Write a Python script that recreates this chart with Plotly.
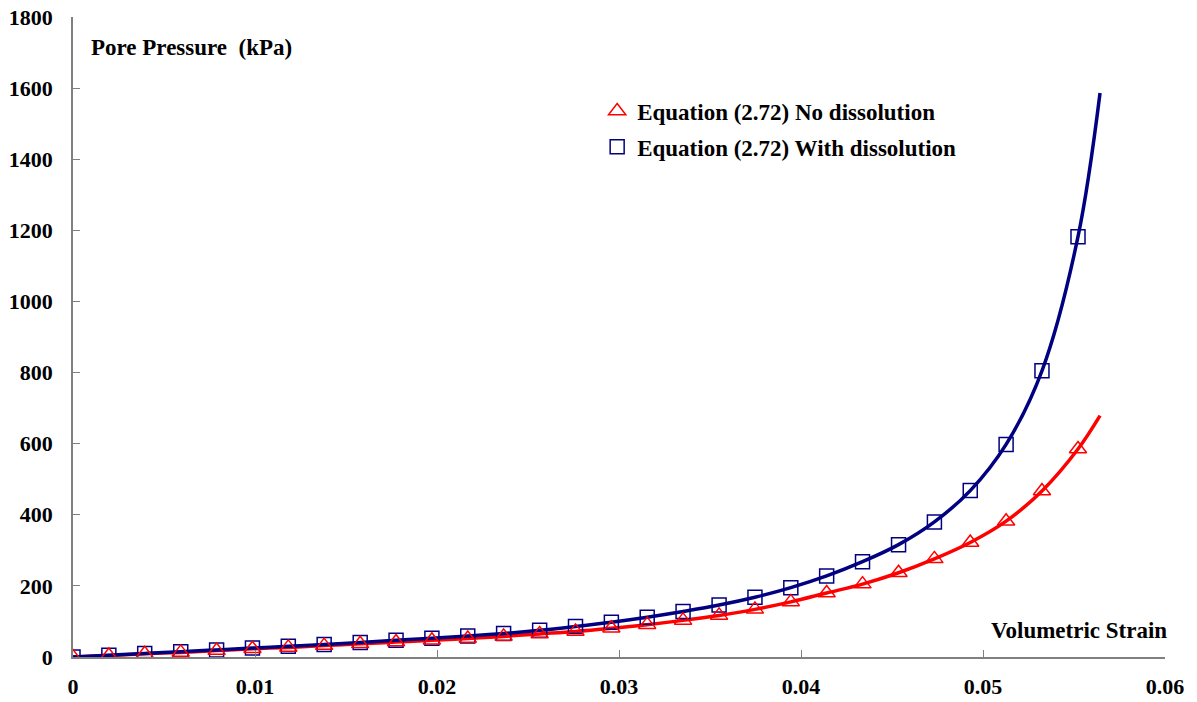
import plotly.graph_objects as go

# Volumetric strain at the computed points
strain_pts = [0.0, 0.00197, 0.00394, 0.00592, 0.00789, 0.00986, 0.01183, 0.0138,
              0.01578, 0.01775, 0.01972, 0.02169, 0.02366, 0.02564, 0.02761, 0.02958,
              0.03155, 0.03352, 0.0355, 0.03747, 0.03944, 0.04141, 0.04338, 0.04536,
              0.04733, 0.0493, 0.05127, 0.05324, 0.05522]

# Pore pressure (kPa), Equation (2.72) without gas dissolution
p_no_diss = [0, 4, 9, 13, 18, 23, 27, 32, 37, 42, 47, 52, 58, 65, 72, 81, 91, 103,
             117, 134, 155, 180, 205, 237, 276, 322, 382, 467, 585]

# Pore pressure (kPa), Equation (2.72) with gas dissolution
p_with_diss = [0, 5, 10, 15, 20, 25, 30, 35, 41, 47, 53, 59, 66, 75, 86, 98, 112, 128,
               146, 168, 195, 228, 268, 316, 380, 468, 598, 805, 1182]

# Curve tails past the last marker
tail_strain = [0.05643]
tail_red = [679]
tail_blue = [1586]

x_ticks = [0, 0.01, 0.02, 0.03, 0.04, 0.05, 0.06]
x_tick_text = ["0", "0.01", "0.02", "0.03", "0.04", "0.05", "0.06"]
y_ticks = [0, 200, 400, 600, 800, 1000, 1200, 1400, 1600, 1800]

RED = "#FF0000"
BLUE = "#000080"
FONT = "Liberation Serif"


def bold(s):
    return "<b>" + s + "</b>"


fig = go.Figure()

fig.add_trace(go.Scatter(x=strain_pts + tail_strain, y=p_no_diss + tail_red, mode="lines",
                         line=dict(color=RED, width=3.5, shape="spline", smoothing=1.0),
                         showlegend=False, hoverinfo="skip"))
fig.add_trace(go.Scatter(x=strain_pts + tail_strain, y=p_with_diss + tail_blue, mode="lines",
                         line=dict(color=BLUE, width=3.5, shape="spline", smoothing=1.0),
                         showlegend=False, hoverinfo="skip"))

fig.add_trace(go.Scatter(x=strain_pts, y=p_with_diss, mode="markers",
                         name=bold("Equation (2.72) With dissolution"), legend="legend2",
                         marker=dict(symbol="square-open", size=14,
                                     color=BLUE, line=dict(width=1.5, color=BLUE))))
fig.add_trace(go.Scatter(x=strain_pts, y=p_no_diss, mode="markers",
                         name=bold("Equation (2.72) No dissolution"), legend="legend",
                         marker=dict(symbol="triangle-up-open", size=15,
                                     color=RED, line=dict(width=1.5, color=RED))))

legend_font = dict(family=FONT, size=23, color="black")
tickfont = dict(family=FONT, size=22, color="black")

fig.update_layout(
    width=1197, height=702,
    margin=dict(l=73, r=32, t=17, b=45),
    plot_bgcolor="white", paper_bgcolor="white",
    showlegend=True,
    legend=dict(x=0.48, y=0.853, xanchor="left", yanchor="middle",
                font=legend_font, bgcolor="rgba(0,0,0,0)", itemwidth=30),
    legend2=dict(x=0.48, y=0.797, xanchor="left", yanchor="middle",
                 font=legend_font, bgcolor="rgba(0,0,0,0)", itemwidth=30),
    xaxis=dict(range=[0, 0.06], tickvals=x_ticks,
               ticktext=[bold(t) for t in x_tick_text], automargin=False,
               showgrid=False, zeroline=False, showline=True, linecolor="#808080",
               linewidth=1.5, ticks="inside", ticklen=7, tickcolor="#808080",
               tickfont=tickfont, ticklabelstandoff=9),
    yaxis=dict(range=[0, 1800], tickvals=y_ticks,
               ticktext=[bold(str(v)) for v in y_ticks], automargin=False,
               showgrid=False, zeroline=False, showline=True, linecolor="#808080",
               linewidth=1.5, ticks="inside", ticklen=7, tickcolor="#808080",
               tickfont=tickfont, ticklabelstandoff=14),
    annotations=[
        dict(text=bold("Pore Pressure  (kPa)"), xref="paper", yref="paper",
             x=0.0145, y=0.952, xanchor="left", yanchor="middle", showarrow=False,
             font=dict(family=FONT, size=23, color="black")),
        dict(text=bold("Volumetric Strain"), xref="paper", yref="paper",
             x=1.004, y=0.042, xanchor="right", yanchor="middle", showarrow=False,
             font=dict(family=FONT, size=23, color="black")),
    ],
)

fig.write_html("out.html")
